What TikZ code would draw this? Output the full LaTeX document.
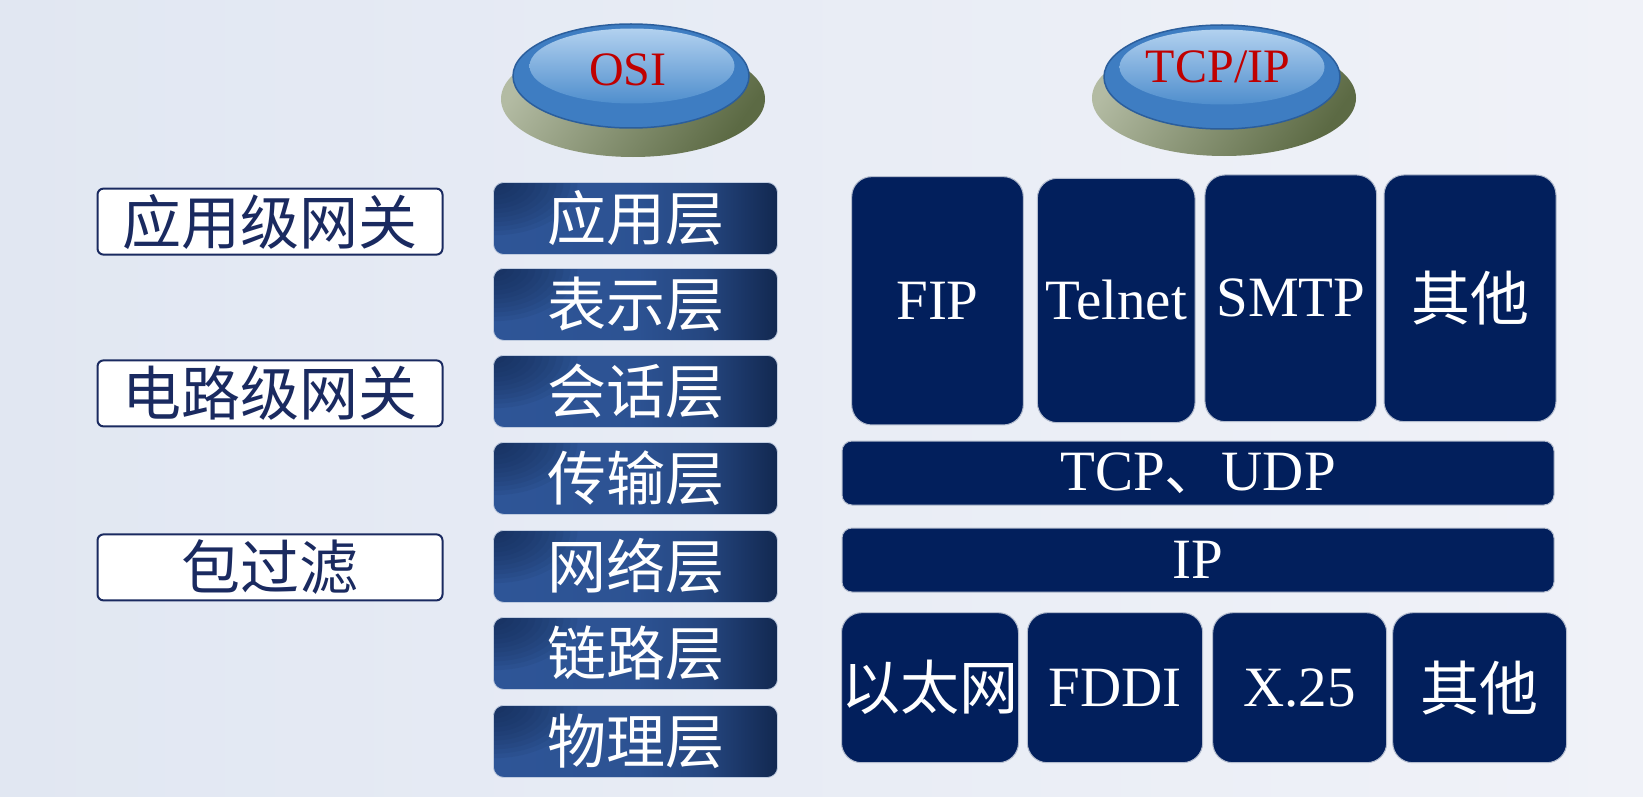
\documentclass[tikz,border=0pt]{standalone}
\usepackage{fontspec}
\setmainfont{Liberation Serif}
\newfontfamily\cjkfont{Noto Sans CJK SC}
\usetikzlibrary{shapes.geometric}

\definecolor{navy}{HTML}{021F5C}
\definecolor{labelnavy}{HTML}{1A2A60}
\definecolor{osired}{HTML}{C00000}
\definecolor{bgleft}{HTML}{E1E7F2}
\definecolor{bgright}{HTML}{F0F2F8}
\definecolor{layerdark}{HTML}{122850}
\definecolor{layermid}{HTML}{2E5597}
\definecolor{olivelight}{HTML}{B3BBA3}
\definecolor{olivedark}{HTML}{5C6A44}
\definecolor{btnblue}{HTML}{3E7DC2}
\definecolor{btnedge}{HTML}{2B5E9C}
\definecolor{btnlight}{HTML}{B2D1EF}
\definecolor{btnmid}{HTML}{4F8ECD}

% OSI layer fill: medium blue, darkening towards the right end
% (the box spans 25bp..75bp of the shading)
\pgfdeclarehorizontalshading{layershade}{100bp}{%
  color(0bp)=(layermid);
  color(25bp)=(layermid);
  color(50bp)=(layermid!94!layerdark);
  color(62bp)=(layermid!68!layerdark);
  color(75bp)=(layerdark);
  color(100bp)=(layerdark)}

\tikzset{
  cjktext/.style={font=\cjkfont\fontsize{59}{62}\selectfont},
  gatebox/.style={cjktext, draw=labelnavy, line width=2pt, fill=white,
    rounded corners=6pt, minimum width=345pt, minimum height=66pt,
    inner sep=0pt, text=labelnavy},
  % dark top-left corner built from stacked translucent ellipses
  layerbox/.style={cjktext, shading=layershade, draw=white!70!layermid,
    line width=0.8pt, rounded corners=10pt, minimum width=284pt,
    minimum height=72pt, inner sep=0pt, text=white,
    path picture={
      \foreach \k in {1,...,12}
        \fill[layerdark, opacity=0.09]
          (path picture bounding box.north west)
          ellipse [x radius=\k*7pt, y radius=\k*4.4pt];
    }},
  protobox/.style={fill=navy, draw=white!70!navy, line width=1pt,
    rounded corners=20pt, inner sep=0pt, text=white,
    font=\fontsize{57}{60}\selectfont},
  barbox/.style={protobox, rounded corners=10pt, minimum width=712pt,
    minimum height=64pt},
  btnbase/.style={ellipse, inner sep=0pt, minimum width=264pt,
    minimum height=116pt, shade, top color=olivelight,
    bottom color=olivedark, shading angle=55},
  btncap/.style={ellipse, inner sep=0pt, minimum width=236pt,
    minimum height=104pt, fill=btnblue, draw=btnedge, line width=1.5pt},
  btnglow/.style={ellipse, inner sep=0pt, minimum width=205pt,
    minimum height=75pt, shade, top color=btnlight, bottom color=btnmid},
  btntext/.style={text=osired, font=\fontsize{48}{52}\selectfont,
    inner sep=0pt}
}

\begin{document}
\begin{tikzpicture}[x=1pt, y=-1pt]
  % page and background
  \useasboundingbox (0,0) rectangle (1643,797);
  \shade[left color=bgleft, right color=bgright] (0,0) rectangle (1643,797);

  % model buttons
  \node[btnbase] (osibase) at (633,99) {};
  \node[btncap]  (osicap)  at (631,76) {};
  \node[btnglow] (osiglow) at (632,66) {};
  \node[btntext] (osi)     at (628,70) {OSI};

  \node[btnbase] (tcpbase) at (1224,98) {};
  \node[btncap]  (tcpcap)  at (1222,77) {};
  \node[btnglow] (tcpglow) at (1222,67) {};
  \node[btntext] (tcpip)   at (1218,67) {TCP/IP};

  % firewall types
  \node[gatebox] (appgw)  at (270,221.6) {应用级网关};
  \node[gatebox] (circgw) at (270,393.4) {电路级网关};
  \node[gatebox] (pktflt) at (270,567.4) {包过滤};

  % OSI seven layers
  \node[layerbox] (osi1) at (635.5,218.5) {应用层};
  \node[layerbox] (osi2) at (635.5,304.4) {表示层};
  \node[layerbox] (osi3) at (635.5,391.4) {会话层};
  \node[layerbox] (osi4) at (635.5,478.4) {传输层};
  \node[layerbox] (osi5) at (635.5,566.4) {网络层};
  \node[layerbox] (osi6) at (635.5,653.4) {链路层};
  \node[layerbox] (osi7) at (635.5,741.4) {物理层};

  % TCP/IP application protocols
  \node[protobox, minimum width=171.6pt, minimum height=248.3pt]
    (fip) at (937.5,300.8) {FIP};
  \node[protobox, minimum width=157.7pt, minimum height=244.4pt]
    (telnet) at (1116.2,300.5) {Telnet};
  \node[protobox, minimum width=171.7pt, minimum height=246.7pt]
    (smtp) at (1290.8,298.3) {SMTP};
  \node[protobox, minimum width=172pt, minimum height=246.7pt, cjktext]
    (appother) at (1470,298.3) {其他};

  % transport and network
  \node[barbox] (tcpudp) at (1198,473) {TCP{\cjkfont 、}UDP};
  \node[barbox] (ip) at (1198,560) {IP};

  % link layer technologies
  \node[protobox, minimum width=174.6pt, minimum height=150pt, cjktext]
    (ether) at (930,687.7) {以太网};
  \node[protobox, minimum width=175.4pt, minimum height=150pt]
    (fddi) at (1115,687.7) {FDDI};
  \node[protobox, minimum width=174pt, minimum height=150pt]
    (x25) at (1299.7,687.7) {X.25};
  \node[protobox, minimum width=174pt, minimum height=150pt, cjktext]
    (linkother) at (1479.7,687.7) {其他};
\end{tikzpicture}
\end{document}
